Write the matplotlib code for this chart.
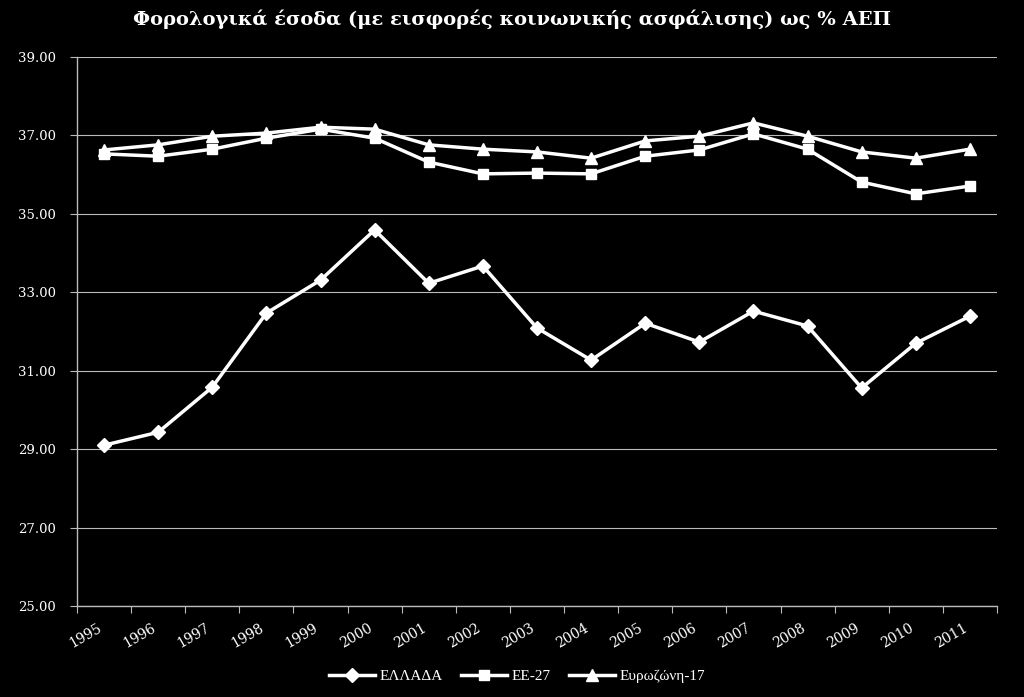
import matplotlib.pyplot as plt

# years and series
years = ['1995', '1996', '1997', '1998', '1999', '2000', '2001', '2002', '2003',
         '2004', '2005', '2006', '2007', '2008', '2009', '2010', '2011']
greece = [29.10, 29.43, 30.58, 32.47, 33.31, 34.59, 33.23, 33.67, 32.09,
          31.27, 32.21, 31.73, 32.52, 32.14, 30.56, 31.70, 32.39]
eu27 = [36.53, 36.47, 36.65, 36.93, 37.16, 36.93, 36.32, 36.02, 36.04,
        36.02, 36.47, 36.63, 37.04, 36.65, 35.81, 35.51, 35.71]
euro17 = [36.63, 36.76, 36.98, 37.06, 37.21, 37.16, 36.76, 36.65, 36.58,
          36.42, 36.86, 36.98, 37.32, 36.98, 36.58, 36.42, 36.65]
yticks = [25, 27, 29, 31, 33, 35, 37, 39]

serif = ['DejaVu Serif']
serif2 = ['Liberation Serif', 'DejaVu Serif']

fig = plt.figure(figsize=(10.24, 6.97), dpi=100, facecolor='black')
ax = fig.add_axes([0.0752, 0.1306, 0.8984, 0.7876], facecolor='black')

x = list(range(len(years)))
ax.plot(x, greece, color='white', lw=2.5, marker='D', ms=7.5, label='ΕΛΛΑΔΑ')
ax.plot(x, eu27, color='white', lw=2.5, marker='s', ms=7.5, label='ΕΕ-27')
ax.plot(x, euro17, color='white', lw=2.5, marker='^', ms=8.5, label='Ευρωζώνη-17')

ax.set_xlim(-0.5, len(years) - 0.5)
ax.set_ylim(25, 39)
ax.set_yticks(yticks)
ax.set_yticklabels(['%.2f' % v for v in yticks], family=serif, fontsize=9.5, color='white')
ax.yaxis.grid(True, color='#bbbbbb', lw=0.8)

# category ticks between years, labels at the centres
ax.set_xticks([i - 0.5 for i in range(len(years) + 1)])
ax.set_xticklabels([])
ax.set_xticks(x, minor=True)
ax.set_xticklabels(years, minor=True, rotation=30, ha='right', family=serif,
                   fontsize=10, color='white')
ax.tick_params(axis='x', which='minor', length=0, pad=11)
ax.tick_params(axis='x', which='major', length=5, color='#bbbbbb', direction='out')
ax.tick_params(axis='y', length=5, color='#bbbbbb', direction='out', pad=10)

for s in ['top', 'right']:
    ax.spines[s].set_visible(False)
for s in ['left', 'bottom']:
    ax.spines[s].set_color('#bbbbbb')
    ax.spines[s].set_linewidth(1)

fig.suptitle('Φορολογικά έσοδα (με εισφορές κοινωνικής ασφάλισης) ως % ΑΕΠ',
             family=serif, fontsize=14, fontweight='bold', color='white', y=0.987)

leg = fig.legend(loc='lower center', bbox_to_anchor=(0.505, 0.0), ncol=3, frameon=False,
                 prop={'family': serif2, 'size': 11}, labelcolor='white',
                 handlelength=3, columnspacing=1.2, handletextpad=0.3)

fig.savefig('out.png', dpi=100, facecolor='black')
